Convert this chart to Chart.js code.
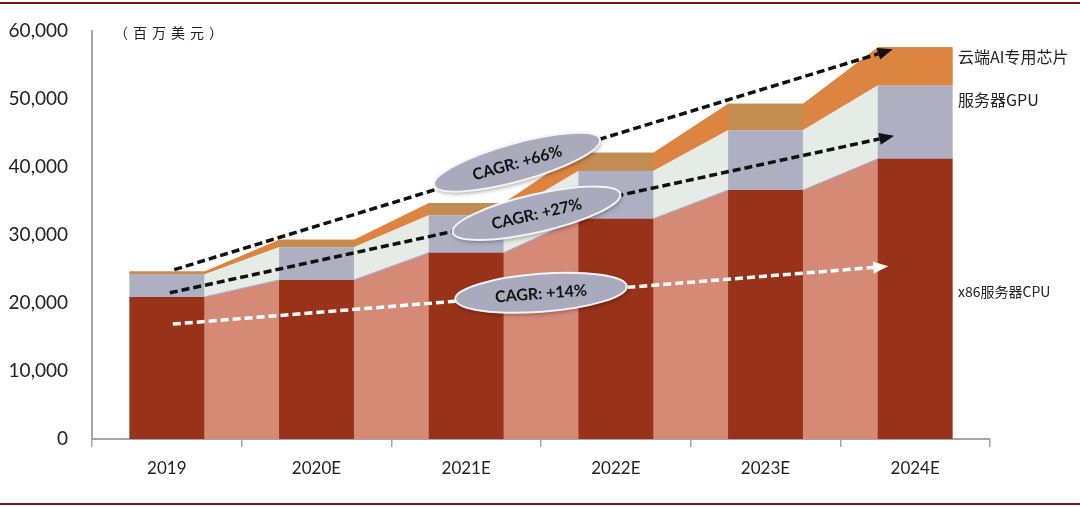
<!DOCTYPE html>
<html>
<head>
<meta charset="utf-8">
<script src="https://cdn.jsdelivr.net/npm/chart.js@4/dist/chart.umd.min.js"></script>
<style>
  html, body { margin: 0; padding: 0; background: #fff; }
  #wrap { position: relative; width: 1080px; height: 508px; }
</style>
</head>
<body>
<div id="wrap"><canvas id="c" width="1080" height="508"></canvas></div>
<script>
// categories and values (USD millions)
const years = ['2019', '2020E', '2021E', '2022E', '2023E', '2024E'];
const cpuValues = [20900, 23400, 27400, 32400, 36600, 41200];
const gpuValues = [3300, 4800, 5500, 7000, 8800, 10800];
const aiValues = [450, 1100, 1800, 2700, 3900, 5600];
const yTicks = [0, 10000, 20000, 30000, 40000, 50000, 60000];

// growth arrows and CAGR labels, in data units (category index, value)
const arrows = [
  { from: [0.05, 24900], to: [4.85, 57300], color: '#111' },
  { from: [0.02, 21500], to: [4.86, 44600], color: '#111' },
  { from: [0.04, 16900], to: [4.82, 25400], color: '#fff' }
];
const cagrLabels = [
  { text: 'CAGR: +66%', at: [2.34, 40700], angle: -15.5 },
  { text: 'CAGR: +27%', at: [2.47, 33200], angle: -13 },
  { text: 'CAGR: +14%', at: [2.50, 21500], angle: -4.3 }
];

// area points at the bar edges, so the slopes run from bar to bar
function edgePoints(values) {
  const pts = [];
  values.forEach((v, i) => {
    pts.push({ x: i - 0.25, y: v });
    pts.push({ x: i + 0.25, y: v });
  });
  return pts;
}

const fmt = v => v.toLocaleString('en-US');

const annotate = {
  id: 'annotate',
  afterDatasetsDraw(chart) {
    const c = chart.ctx;
    const xs = chart.scales.x2, ys = chart.scales.y;
    const px = p => [xs.getPixelForValue(p[0]), ys.getPixelForValue(p[1])];

    // dashed arrows
    arrows.forEach(a => {
      const [x1, y1] = px(a.from), [x2, y2] = px(a.to);
      const ang = Math.atan2(y2 - y1, x2 - x1);
      const head = 15;
      const bx = x2 - head * Math.cos(ang), by = y2 - head * Math.sin(ang);
      c.save();
      c.strokeStyle = a.color;
      c.fillStyle = a.color;
      c.lineWidth = 3.5;
      c.setLineDash([8, 4]);
      c.beginPath();
      c.moveTo(x1, y1);
      c.lineTo(bx, by);
      c.stroke();
      c.setLineDash([]);
      c.beginPath();
      c.moveTo(x2, y2);
      c.lineTo(bx + 6 * Math.sin(ang), by - 6 * Math.cos(ang));
      c.lineTo(bx - 6 * Math.sin(ang), by + 6 * Math.cos(ang));
      c.closePath();
      c.fill();
      c.restore();
    });

    // CAGR ellipses
    cagrLabels.forEach(l => {
      const [cx, cy] = px(l.at);
      c.save();
      c.translate(cx, cy);
      c.rotate(l.angle * Math.PI / 180);
      c.shadowColor = 'rgba(0,0,0,0.35)';
      c.shadowBlur = 4;
      c.shadowOffsetX = 1;
      c.shadowOffsetY = 2;
      c.beginPath();
      c.ellipse(0, 0, 86, 19, 0, 0, Math.PI * 2);
      c.fillStyle = '#A9ABBD';
      c.fill();
      c.shadowColor = 'transparent';
      c.lineWidth = 2;
      c.strokeStyle = '#F4F4F4';
      c.stroke();
      c.fillStyle = '#111';
      c.font = 'bold 16px Lato, "Liberation Sans", sans-serif';
      c.textAlign = 'center';
      c.textBaseline = 'middle';
      c.fillText(l.text, 0, 1);
      c.restore();
    });

    // unit and series labels
    c.save();
    c.fillStyle = '#222';
    c.textBaseline = 'middle';
    c.font = '14px "Noto Sans CJK SC", sans-serif';
    c.letterSpacing = '5px';
    c.fillText('（百万美元）', 114, 33);
    c.letterSpacing = '0px';
    c.font = '16px "Noto Sans CJK SC", sans-serif';
    c.fillText('云端AI专用芯片', 958, 57);
    c.fillText('服务器GPU', 958, 100);
    c.font = '14px "Noto Sans CJK SC", sans-serif';
    c.fillText('x86服务器CPU', 958, 292);
    c.restore();

    // frame lines top and bottom
    c.save();
    c.fillStyle = '#7E1416';
    c.fillRect(0, 2, 1080, 2);
    c.fillRect(0, 503, 1080, 2);
    c.restore();
  }
};

const barBase = { stack: 'bars', xAxisID: 'x', grouped: false, barPercentage: 0.5, categoryPercentage: 1.0, order: 1, borderWidth: 0 };
const areaBase = { type: 'line', xAxisID: 'x2', pointRadius: 0, tension: 0, order: 2 };

new Chart(document.getElementById('c'), {
  type: 'bar',
  data: {
    labels: years,
    datasets: [
      { ...barBase, label: 'x86服务器CPU', data: cpuValues, backgroundColor: '#983219' },
      { ...barBase, label: '服务器GPU', data: gpuValues, backgroundColor: '#AEB0C2' },
      { ...barBase, label: '云端AI专用芯片', data: aiValues,
        backgroundColor: ['#C38C50', '#C38C50', '#C38C50', '#C38C50', '#C38C50', '#DC8540'] },
      { ...areaBase, data: edgePoints(cpuValues), fill: 'origin', backgroundColor: '#D58A76', borderColor: '#9FB4D8', borderWidth: 1 },
      { ...areaBase, data: edgePoints(gpuValues), fill: '-1', backgroundColor: '#E4ECE5', borderWidth: 0 },
      { ...areaBase, data: edgePoints(aiValues), fill: '-1', backgroundColor: '#DD8540', borderWidth: 0 }
    ]
  },
  options: {
    responsive: false,
    animation: false,
    layout: { padding: { top: 31, right: 90, left: 0, bottom: 0 } },
    plugins: { legend: { display: false }, tooltip: { enabled: false } },
    scales: {
      x: {
        stacked: true,
        offset: true,
        grid: { offset: true, drawOnChartArea: false, drawTicks: true, tickLength: 8, color: '#A6A6A6', lineWidth: 1.5 },
        border: { display: true, color: '#A6A6A6', width: 2 },
        ticks: { color: '#222', font: { family: 'Lato, "Liberation Sans", sans-serif', size: 17 }, padding: 11 },
        afterFit(s) { s.height = 69; s.paddingLeft = 0; s.paddingRight = 0; }
      },
      x2: { type: 'linear', display: false, offset: false, grid: { offset: false }, min: -0.5, max: 5.5 },
      y: {
        stacked: true,
        min: 0,
        max: 60000,
        afterBuildTicks(s) { s.ticks = yTicks.map(v => ({ value: v })); },
        grid: { display: false, drawTicks: false },
        border: { display: true, color: '#A6A6A6', width: 2 },
        ticks: { color: '#222', font: { family: 'Lato, "Liberation Sans", sans-serif', size: 19 }, padding: 24, callback: v => fmt(v) },
        afterFit(s) { s.width = 92; s.paddingTop = 0; s.paddingBottom = 0; }
      }
    }
  },
  plugins: [annotate]
});
</script>
</body>
</html>
